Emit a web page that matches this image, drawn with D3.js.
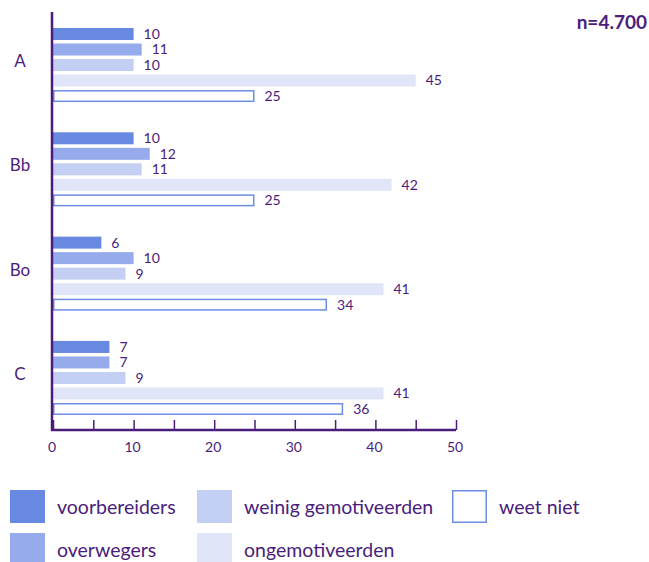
<!DOCTYPE html>
<html>
<head>
<meta charset="utf-8">
<script src="https://cdn.jsdelivr.net/npm/d3@7"></script>
<style>
  body { margin: 0; background: #fff; }
  text { font-family: Lato, "Open Sans", sans-serif; fill: #4a1d7c; }
</style>
</head>
<body>
<div id="chart"></div>
<script>
// categories and series
var categories = ["A", "Bb", "Bo", "C"];
var series = ["voorbereiders", "overwegers", "weinig gemotiveerden", "ongemotiveerden", "weet niet"];

// values per series, in category order
var voorbereiders = [10, 10, 6, 7];
var overwegers = [11, 12, 10, 7];
var weinigGemotiveerden = [10, 11, 9, 9];
var ongemotiveerden = [45, 42, 41, 41];
var weetNiet = [25, 25, 34, 36];

var xTicks = [0, 5, 10, 15, 20, 25, 30, 35, 40, 45, 50];
var xLabels = [0, 10, 20, 30, 40, 50];
var note = "n=4.700";

var values = [voorbereiders, overwegers, weinigGemotiveerden, ongemotiveerden, weetNiet];
var fills = ["#6889e2", "#95abeb", "#c3cff3", "#e0e6f8", "#ffffff"];
var strokes = [null, null, null, null, "#6d8de2"];
var ink = "#4a1d7c";

var width = 649, height = 562;

var svg = d3.select("#chart").append("svg")
  .attr("width", width)
  .attr("height", height);

var x = d3.scaleLinear().domain([0, 50]).range([53, 456]);
var y0 = d3.scaleBand().domain(categories).range([28, 415]).paddingInner(0.29);
var y1 = d3.scaleBand().domain(series).range([0, y0.bandwidth()]).paddingInner(0.226);

// flatten into rows for drawing
var rows = [];
categories.forEach(function(c, ci){
  series.forEach(function(s, si){
    rows.push({cat: c, ser: s, si: si, value: values[si][ci]});
  });
});

var bars = svg.append("g");
bars.selectAll("rect")
  .data(rows)
  .enter().append("rect")
  .attr("x", function(d){ return x(0) + (strokes[d.si] ? 0.75 : 0); })
  .attr("y", function(d){ return y0(d.cat) + y1(d.ser) + (strokes[d.si] ? 0.75 : 0); })
  .attr("width", function(d){ return x(d.value) - x(0) - (strokes[d.si] ? 1.5 : 0); })
  .attr("height", function(d){ return y1.bandwidth() - (strokes[d.si] ? 1.5 : 0); })
  .attr("fill", function(d){ return fills[d.si]; })
  .attr("stroke", function(d){ return strokes[d.si] || "none"; })
  .attr("stroke-width", 1.5);

svg.append("g").selectAll("text")
  .data(rows)
  .enter().append("text")
  .attr("x", function(d){ return x(d.value) + 10; })
  .attr("y", function(d){ return y0(d.cat) + y1(d.ser) + y1.bandwidth() / 2; })
  .attr("dy", "0.35em")
  .style("font-size", "14px")
  .text(function(d){ return d.value; });

// category labels
svg.append("g").selectAll("text")
  .data(categories)
  .enter().append("text")
  .attr("x", 20)
  .attr("y", function(d){ return y0(d) + y0.bandwidth() / 2 - 4; })
  .attr("dy", "0.35em")
  .attr("text-anchor", "middle")
  .style("font-size", "17px")
  .text(function(d){ return d; });

// y axis line
svg.append("line")
  .attr("x1", 52).attr("x2", 52)
  .attr("y1", 12).attr("y2", 431)
  .attr("stroke", ink).attr("stroke-width", 2.5);

// x axis, ticks every 5, labels every 10
var xAxis = svg.append("g")
  .attr("transform", "translate(0,430)")
  .call(d3.axisTop(x).tickValues(xTicks).tickSize(10).tickFormat(""));
xAxis.select(".domain").attr("stroke", ink).attr("stroke-width", 2.5).attr("d", "M51,0H456");
xAxis.selectAll(".tick line").attr("stroke", ink).attr("stroke-width", 1.5);

svg.append("g").selectAll("text")
  .data(xLabels)
  .enter().append("text")
  .attr("x", function(d){ return x(d) - 1; })
  .attr("y", 452)
  .attr("text-anchor", "middle")
  .style("font-size", "14px")
  .text(function(d){ return d; });

// note
svg.append("text")
  .attr("x", 647).attr("y", 29)
  .attr("text-anchor", "end")
  .style("font-size", "19px")
  .style("font-weight", "bold")
  .text(note);

// legend
var legendPos = [[10, 490], [10, 533], [197, 490], [197, 533], [452, 490]];
var legend = svg.append("g").selectAll("g")
  .data(series)
  .enter().append("g")
  .attr("transform", function(d, i){ return "translate(" + legendPos[i][0] + "," + legendPos[i][1] + ")"; });

legend.append("rect")
  .attr("x", function(d, i){ return strokes[i] ? 0.75 : 0; })
  .attr("y", function(d, i){ return strokes[i] ? 0.75 : 0; })
  .attr("width", function(d, i){ return strokes[i] ? 33.5 : 35; })
  .attr("height", function(d, i){ return strokes[i] ? 31.5 : 33; })
  .attr("fill", function(d, i){ return fills[i]; })
  .attr("stroke", function(d, i){ return strokes[i] || "none"; })
  .attr("stroke-width", 1.5);

legend.append("text")
  .attr("x", 47)
  .attr("y", 24)
  .style("font-size", "19.5px")
  .text(function(d){ return d; });
</script>
</body>
</html>
